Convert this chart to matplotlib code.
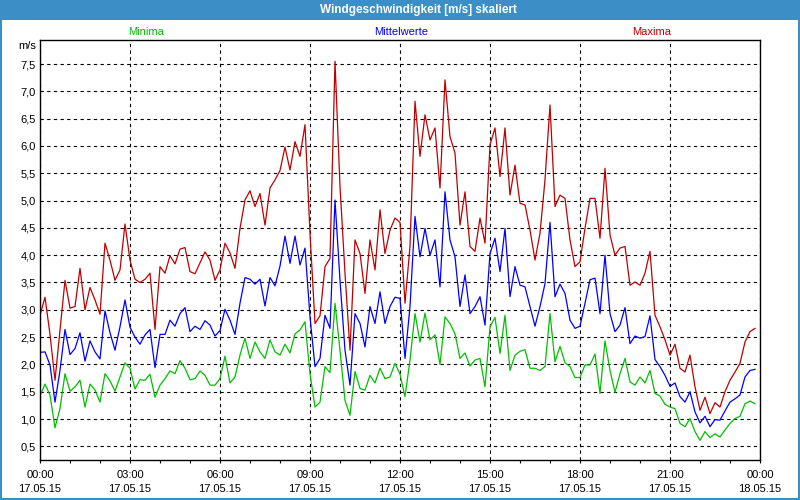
import matplotlib
matplotlib.use('Agg')
import matplotlib.pyplot as plt
import pandas as pd
from matplotlib.patches import Rectangle

plt.rcParams['font.family'] = ['Liberation Sans', 'DejaVu Sans']

times = pd.date_range('2015-05-17 00:00', periods=144, freq='10min')

maxima = [2.90, 3.23, 2.55, 1.71, 2.63, 3.54, 3.03, 3.06, 3.76, 3.00, 3.41, 3.18,
          2.92, 4.22, 3.91, 3.54, 3.73, 4.57, 3.91, 3.56, 3.50, 3.56, 3.67, 2.64,
          3.79, 3.67, 3.99, 3.84, 4.11, 4.14, 3.70, 3.66, 3.86, 4.06, 3.91, 3.54,
          3.73, 4.22, 4.04, 3.76, 4.49, 5.01, 5.18, 4.89, 5.13, 4.55, 5.23, 5.38,
          5.55, 5.98, 5.56, 6.08, 5.81, 6.39, 4.40, 2.75, 2.89, 3.79, 3.94, 7.55,
          5.26, 3.67, 2.26, 4.28, 4.03, 3.30, 4.28, 3.73, 4.83, 4.03, 4.46, 4.68,
          4.60, 3.12, 4.16, 6.82, 5.81, 6.57, 6.11, 6.33, 5.23, 7.21, 6.17, 5.87,
          4.55, 5.16, 4.16, 4.07, 4.68, 4.22, 6.02, 6.33, 5.44, 6.33, 5.10, 5.65,
          4.95, 4.92, 4.46, 3.91, 4.40, 5.38, 6.75, 4.89, 5.10, 5.04, 4.28, 3.79,
          3.88, 4.49, 5.04, 5.04, 4.31, 5.59, 4.37, 4.00, 4.13, 4.16, 3.45, 3.51,
          3.45, 3.67, 4.07, 2.90, 2.69, 2.45, 2.17, 2.37, 1.93, 1.86, 2.17, 1.59,
          1.16, 1.40, 1.10, 1.30, 1.22, 1.50, 1.71, 1.86, 2.02, 2.41, 2.60, 2.66]

mittelwerte = [2.22, 2.23, 1.99, 1.31, 1.89, 2.64, 2.18, 2.29, 2.58, 2.06, 2.43, 2.23,
               2.10, 2.98, 2.58, 2.26, 2.69, 3.18, 2.68, 2.50, 2.37, 2.54, 2.64, 1.94,
               2.55, 2.55, 2.81, 2.70, 2.93, 3.04, 2.60, 2.70, 2.64, 2.80, 2.72, 2.52,
               2.62, 3.01, 2.81, 2.55, 3.12, 3.59, 3.56, 3.47, 3.56, 3.07, 3.59, 3.44,
               3.80, 4.35, 3.85, 4.35, 3.82, 4.13, 2.87, 1.96, 2.11, 2.90, 2.66, 5.01,
               3.54, 2.26, 1.62, 2.93, 2.75, 2.32, 3.06, 2.75, 3.33, 2.75, 3.06, 3.23,
               3.21, 2.11, 3.06, 4.71, 3.97, 4.49, 4.00, 4.28, 3.42, 5.16, 4.28, 3.97,
               3.06, 3.64, 2.93, 3.06, 3.24, 2.72, 4.03, 4.31, 3.70, 4.49, 3.24, 3.79,
               3.45, 3.42, 3.06, 2.70, 3.06, 3.48, 4.60, 3.24, 3.47, 3.30, 2.81, 2.66,
               2.70, 3.12, 3.55, 3.58, 2.93, 4.00, 2.93, 2.60, 2.72, 3.04, 2.38, 2.52,
               2.48, 2.51, 2.89, 2.09, 1.96, 1.80, 1.60, 1.66, 1.41, 1.31, 1.50, 1.13,
               0.93, 1.05, 0.86, 0.99, 0.98, 1.15, 1.31, 1.37, 1.44, 1.77, 1.89, 1.91]

minima = [1.42, 1.64, 1.44, 0.84, 1.19, 1.83, 1.51, 1.59, 1.71, 1.22, 1.64, 1.53,
          1.31, 1.83, 1.70, 1.51, 1.77, 2.03, 1.93, 1.55, 1.72, 1.71, 1.82, 1.40,
          1.62, 1.74, 1.88, 1.83, 2.07, 1.93, 1.72, 1.74, 1.88, 1.80, 1.62, 1.62,
          1.74, 2.15, 1.66, 1.77, 2.17, 2.48, 2.11, 2.41, 2.23, 2.11, 2.45, 2.23,
          2.17, 2.37, 2.21, 2.56, 2.63, 2.78, 1.83, 1.22, 1.31, 1.96, 1.85, 3.12,
          2.26, 1.34, 1.07, 1.87, 1.56, 1.53, 1.80, 1.66, 1.93, 1.74, 1.77, 2.02,
          1.82, 1.41, 2.08, 2.93, 2.41, 2.94, 2.45, 2.54, 2.00, 2.87, 2.75, 2.56,
          2.11, 2.21, 1.97, 2.08, 2.11, 1.59, 2.69, 2.86, 2.20, 2.90, 1.89, 2.17,
          2.24, 2.27, 1.93, 1.93, 1.89, 1.96, 2.93, 2.05, 2.33, 2.03, 1.96, 1.76,
          1.76, 1.99, 1.99, 2.19, 1.47, 2.43, 1.89, 1.49, 1.83, 2.11, 1.68, 1.62,
          1.77, 1.66, 1.89, 1.47, 1.42, 1.27, 1.22, 1.19, 0.92, 0.86, 1.01, 0.77,
          0.61, 0.77, 0.66, 0.73, 0.67, 0.80, 0.92, 1.01, 1.05, 1.28, 1.33, 1.28]

y_ticks = [0.5, 1.0, 1.5, 2.0, 2.5, 3.0, 3.5, 4.0, 4.5, 5.0, 5.5, 6.0, 6.5, 7.0, 7.5]
y_labels = ['0,5', '1,0', '1,5', '2,0', '2,5', '3,0', '3,5', '4,0', '4,5', '5,0',
            '5,5', '6,0', '6,5', '7,0', '7,5']
x_labels = ['00:00\n17.05.15', '03:00\n17.05.15', '06:00\n17.05.15', '09:00\n17.05.15',
            '12:00\n17.05.15', '15:00\n17.05.15', '18:00\n17.05.15', '21:00\n17.05.15',
            '00:00\n18.05.15']
title = 'Windgeschwindigkeit [m/s] skaliert'
series_names = ['Minima', 'Mittelwerte', 'Maxima']

c_max = '#c00000'
c_mit = '#0000ff'
c_min = '#00c000'
bar_col = '#3b8fc6'

fig = plt.figure(figsize=(8, 5), dpi=100)
fig.patch.set_facecolor('white')

# title bar and window frame
fig.patches.append(Rectangle((0, 0.96), 1, 0.04, transform=fig.transFigure,
                             facecolor=bar_col, edgecolor='none', zorder=0))
fig.patches.append(Rectangle((0.001, 0.002), 0.998, 0.996, transform=fig.transFigure,
                             fill=False, edgecolor=bar_col, lw=1.5, zorder=0))
fig.text(418.5 / 800, 1 - 10 / 500, title, color='white', fontweight='bold',
         fontsize=8.5, ha='center', va='center')

ax = fig.add_axes([0.05, 0.08, 0.9, 0.84])
ax.set_facecolor('white')
ax.plot(times, maxima, color=c_max, lw=0.9)
ax.plot(times, mittelwerte, color=c_mit, lw=0.9)
ax.plot(times, minima, color=c_min, lw=0.9)

start = pd.Timestamp('2015-05-17 00:00')
end = pd.Timestamp('2015-05-18 00:00')
ax.set_xlim(start, end)
ax.set_ylim(0.25, 7.94)

ax.set_xticks(pd.date_range(start, end, freq='3h'))
ax.set_xticklabels(x_labels, linespacing=1.5)
ax.set_xticks(pd.date_range(start, end, freq='1h'), minor=True)
ax.set_yticks(y_ticks)
ax.set_yticklabels(y_labels)

ax.tick_params(axis='x', which='both', direction='out', length=2.5, width=0.8,
               pad=5, labelsize=8, colors='black')
ax.tick_params(axis='y', length=0, pad=3, labelsize=8)

ax.grid(True, which='major', color='black', linestyle=(0, (3, 3)), lw=0.8)
for s in ax.spines.values():
    s.set_color('black')
    s.set_linewidth(1.0)

fig.text(36 / 800, 1 - 46 / 500, 'm/s', ha='right', va='center', fontsize=8)
fig.text(146 / 800, 1 - 32 / 500, series_names[0], color=c_min, ha='center',
         va='center', fontsize=8)
fig.text(401 / 800, 1 - 32 / 500, series_names[1], color=c_mit, ha='center',
         va='center', fontsize=8)
fig.text(652 / 800, 1 - 32 / 500, series_names[2], color=c_max, ha='center',
         va='center', fontsize=8)

fig.savefig('out.png', dpi=100)
